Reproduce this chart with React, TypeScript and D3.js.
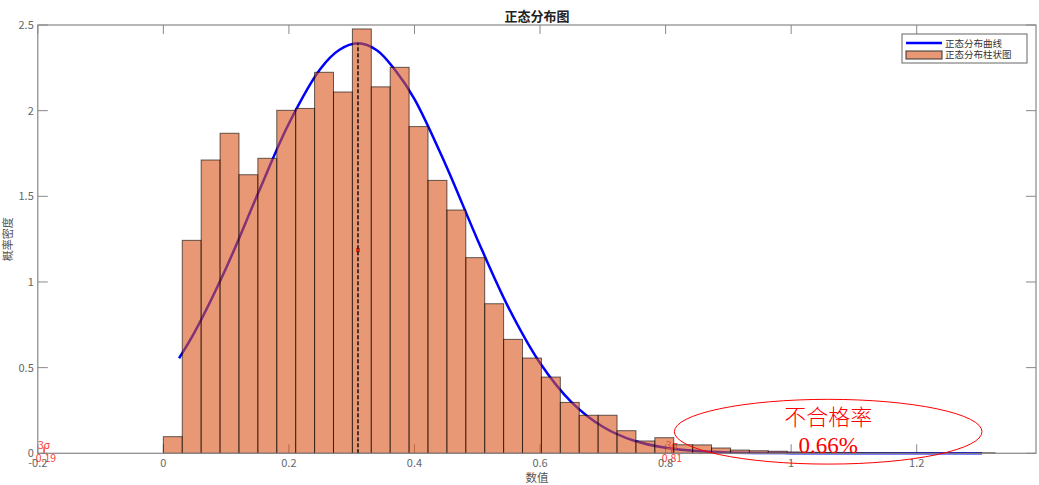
import React from "react";
import { scaleLinear, line, curveCatmullRom } from "d3";

// histogram: 44 bins from 0, width ~0.0301
const binStart = 0;
const binWidth = 0.03011;
const binHeights = [
  0.097, 1.243, 1.712, 1.868, 1.626, 1.722, 2.002, 2.013, 2.224, 2.109, 2.477,
  2.139, 2.253, 1.907, 1.593, 1.42, 1.142, 0.873, 0.665, 0.556, 0.445, 0.297,
  0.222, 0.222, 0.132, 0.072, 0.091, 0.05, 0.049, 0.031, 0.019, 0.015, 0.012,
  0.008, 0.006, 0.005, 0.004, 0.003, 0.003, 0.002, 0.002, 0.001, 0.001, 0.003,
];

// fitted normal curve
const curveX = [
  0.025, 0.05, 0.1, 0.15, 0.2, 0.25, 0.28, 0.31, 0.34, 0.37, 0.4, 0.45, 0.5,
  0.55, 0.6, 0.65, 0.7, 0.75, 0.8, 0.85, 0.9, 0.95, 1.0, 1.05, 1.1, 1.2, 1.304,
];
const curveY = [
  0.555, 0.709, 1.082, 1.51, 1.925, 2.243, 2.354, 2.393, 2.353, 2.233, 2.068,
  1.682, 1.25, 0.849, 0.527, 0.299, 0.155, 0.073, 0.032, 0.013, 0.005, 0.002,
  0.001, 0.0004, 0.0001, 0, 0,
];

const mean = 0.31;
const peak = 2.393;
const halfPeak = 1.186;
const sigmaMarks = [
  { x: -0.19, label: "-0.19" },
  { x: 0.81, label: "0.81" },
];

const xTicks = [-0.2, 0, 0.2, 0.4, 0.6, 0.8, 1, 1.2];
const yTicks = [0, 0.5, 1, 1.5, 2, 2.5];

const legendItems = ["正态分布曲线", "正态分布柱状图"];
const rejectLabel = "不合格率";
const rejectRate = "0.66%";
const ellipse = { cx: 1.059, cy: 0.126, rx: 0.245, ry: 0.189 };

const W = 1039;
const H = 485;
const L = 37.8;
const R = 1036;
const T = 25;
const B = 453.3;

const barFill = "rgb(217,83,25)";
const tickColor = "#666";
const sans = '"Noto Sans CJK SC", "Noto Sans", sans-serif';

export default function App() {
  const x = scaleLinear().domain([-0.2, 1.39]).range([L, R]);
  const y = scaleLinear().domain([0, 2.5]).range([B, T]);

  const pts = curveX.map((v, i) => [v, curveY[i]] as [number, number]);
  const path = line<[number, number]>()
    .x((d) => x(d[0]))
    .y((d) => Math.min(B, y(d[1])))
    .curve(curveCatmullRom.alpha(0.5))(pts);

  return (
    <svg
      width={W}
      height={H}
      style={{ position: "absolute", left: 0, top: 0, display: "block" }}
      fontFamily={sans}
    >
      <rect x={0} y={0} width={W} height={H} fill="#fff" />

      {/* inner ticks */}
      {xTicks.map((t) => (
        <g key={"xt" + t} stroke="#888" strokeWidth={1}>
          <line x1={x(t)} x2={x(t)} y1={B} y2={B - 9} />
          <line x1={x(t)} x2={x(t)} y1={T} y2={T + 9} />
        </g>
      ))}
      {yTicks.map((t) => (
        <g key={"yt" + t} stroke="#888" strokeWidth={1}>
          <line x1={L} x2={L + 10} y1={y(t)} y2={y(t)} />
          <line x1={R} x2={R - 10} y1={y(t)} y2={y(t)} />
        </g>
      ))}

      {/* normal curve */}
      <path d={path ?? ""} fill="none" stroke="#0000ff" strokeWidth={2.5} />
      <rect x={x(mean) - 2} y={y(halfPeak) - 2} width={4} height={4} fill="#ff0000" />

      {/* 3 sigma marks */}
      {sigmaMarks.map((m) => (
        <g key={m.label} fill="#ff3c3c" fontSize={10.5} textAnchor="middle">
          <line x1={x(m.x)} x2={x(m.x)} y1={B} y2={B - 6} stroke="#ff3c3c" strokeWidth={1.5} />
          <text x={x(m.x)} y={B - 4}>3σ</text>
          <text x={x(m.x)} y={B + 9}>{m.label}</text>
        </g>
      ))}

      {/* histogram */}
      {binHeights.map((h, i) => {
        const x0 = binStart + i * binWidth;
        return (
          <rect
            key={"b" + i}
            x={x(x0)}
            y={y(h)}
            width={x(x0 + binWidth) - x(x0)}
            height={B - y(h)}
            fill={barFill}
            fillOpacity={0.6}
            stroke="#000"
            strokeOpacity={0.6}
            strokeWidth={1}
          />
        );
      })}

      {/* mean line */}
      <line
        x1={x(mean)}
        x2={x(mean)}
        y1={y(0)}
        y2={y(peak)}
        stroke="#111"
        strokeWidth={1.5}
        strokeDasharray="4,2"
      />

      {/* axes box */}
      <rect x={L} y={T} width={R - L} height={B - T} fill="none" stroke="#888" strokeWidth={1.2} />

      {xTicks.map((t) => (
        <text key={"xl" + t} x={x(t)} y={B + 14} textAnchor="middle" fontSize={11} fill={tickColor}>
          {t}
        </text>
      ))}
      {yTicks.map((t) => (
        <text key={"yl" + t} x={L - 4} y={y(t) + 4} textAnchor="end" fontSize={11} fill={tickColor}>
          {t}
        </text>
      ))}

      <text x={(L + R) / 2} y={21} textAnchor="middle" fontSize={13} fontWeight="bold" fill="#222">
        正态分布图
      </text>
      <text x={(L + R) / 2} y={482} textAnchor="middle" fontSize={11.5} fill="#555">
        数值
      </text>
      <text
        transform={`translate(12,${(T + B) / 2}) rotate(-90)`}
        textAnchor="middle"
        fontSize={11}
        fill="#555"
      >
        概率密度
      </text>

      {/* reject annotation */}
      <ellipse
        cx={x(ellipse.cx)}
        cy={y(ellipse.cy)}
        rx={x(ellipse.cx + ellipse.rx) - x(ellipse.cx)}
        ry={y(0) - y(ellipse.ry)}
        fill="none"
        stroke="#ff0000"
        strokeWidth={1}
      />
      <g fill="#ff0000" textAnchor="middle" fontFamily={'"Liberation Serif", "Noto Sans CJK SC", serif'}>
        <text x={x(ellipse.cx)} y={y(0.165)} fontSize={22} fontWeight={300}>
          {rejectLabel}
        </text>
        <text x={x(ellipse.cx)} y={y(0)} fontSize={23}>
          {rejectRate}
        </text>
      </g>

      {/* legend */}
      <g>
        <rect x={902} y={34} width={125} height={29} fill="#fff" stroke="#666" strokeWidth={1} />
        <line x1={906} x2={942} y1={43} y2={43} stroke="#0000ff" strokeWidth={2.5} />
        <rect x={906} y={51} width={36} height={8} fill={barFill} fillOpacity={0.6} stroke="#333" strokeWidth={1} />
        {legendItems.map((s, i) => (
          <text key={s} x={945} y={46.5 + i * 11} fontSize={9.5} fill="#333">
            {s}
          </text>
        ))}
      </g>
    </svg>
  );
}
